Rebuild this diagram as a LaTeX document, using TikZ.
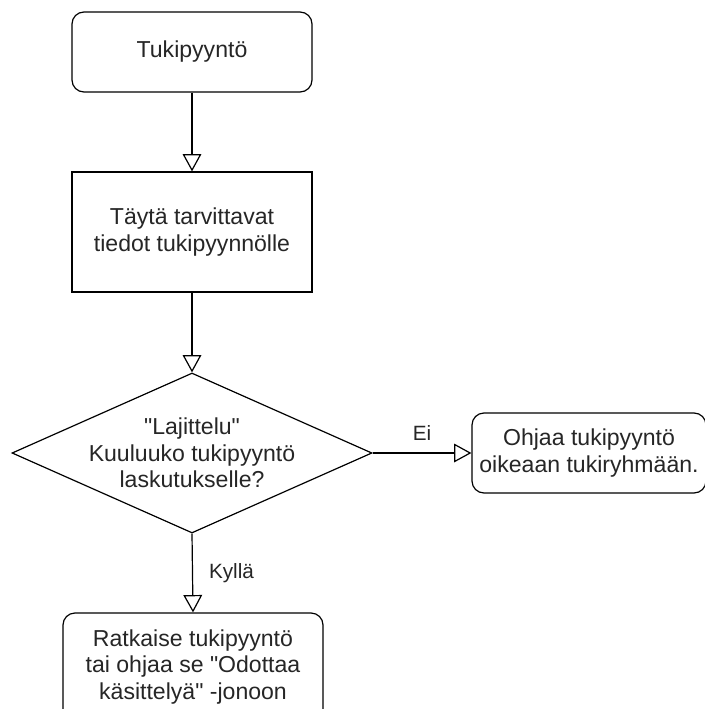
\documentclass[tikz,border=0pt]{standalone}
\usepackage{fontspec}
\setmainfont{Liberation Sans}
\usetikzlibrary{arrows.meta,shapes.geometric}
\begin{document}
\begin{tikzpicture}[x=0.75pt,y=-0.75pt,
  every node/.style={font=\fontsize{17.3pt}{20pt}\selectfont, text=black!85},
  lw/.style={line width=0.9pt, draw=black},
  rbox/.style={lw, rectangle, rounded corners=9pt, align=center, inner sep=0pt},
  sbox/.style={lw, rectangle, align=center, inner sep=0pt},
  conn/.style={lw, -{Triangle[open, length=13pt, width=14pt, line width=0.9pt]}},
  lbl/.style={inner sep=0pt, font=\fontsize{15.5pt}{18pt}\selectfont}
]
\useasboundingbox (0,0) rectangle (704,709);
\fill[white] (0,0) rectangle (704,709);

\node[rbox, minimum width=180pt, minimum height=60pt] (t1) at (192,52) {Tukipyyntö};
\node[sbox, minimum width=180pt, minimum height=90pt] (t2) at (192,232) {Täytä tarvittavat\\tiedot tukipyynnölle};
\node[lw, diamond, minimum width=270pt, minimum height=120pt, inner sep=0pt] (d) at (192,453) {};
\node[align=center, inner sep=0pt] (dt) at (d.center) {\textquotedbl Lajittelu\textquotedbl\\Kuuluuko tukipyyntö\\laskutukselle?};
\node[rbox, minimum width=175.5pt, minimum height=60pt] (t3) at (589,453) {Ohjaa tukipyyntö\\oikeaan tukiryhmään.};
\node[rbox, minimum width=195pt, minimum height=81pt] (t4) at (193,667) {Ratkaise tukipyyntö\\tai ohjaa se \textquotedbl Odottaa\\käsittelyä\textquotedbl\ -jonoon};

\draw[conn] (t1.south) -- (t2.north);
\draw[conn] (t2.south) -- (d.north);
\draw[conn] (d.east) -- node[lbl, above=9pt] (ei) {Ei} (t3.west);
\draw[conn] (d.south) -- node[lbl, right=12pt] (ky) {Kyllä} (t4.north);
\end{tikzpicture}
\end{document}
